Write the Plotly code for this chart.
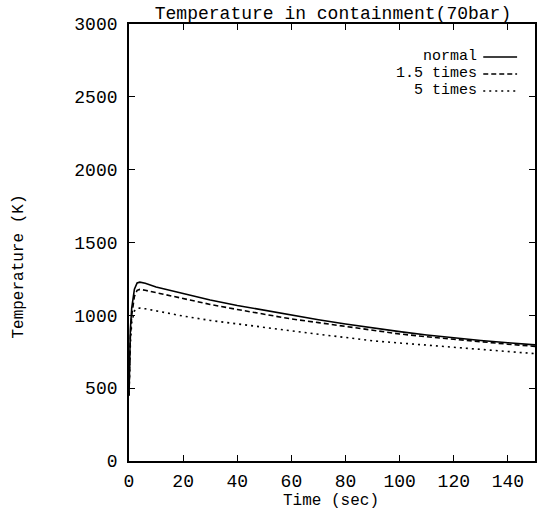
import plotly.graph_objects as go

time_s = [0, 0.5, 1, 2, 3, 4, 6, 10, 20, 30, 40, 50, 60, 70, 80, 90, 100, 110, 120, 130, 140, 150]
temp_normal = [450, 900, 1050, 1180, 1222, 1228, 1220, 1195, 1150, 1105, 1068, 1035, 1000, 970, 940, 912, 888, 865, 845, 827, 812, 797]
temp_15x = [450, 850, 1000, 1130, 1172, 1178, 1172, 1155, 1115, 1075, 1040, 1005, 975, 950, 925, 896, 872, 853, 835, 818, 802, 787]
temp_5x = [450, 800, 950, 1030, 1048, 1050, 1045, 1030, 995, 965, 940, 915, 893, 870, 848, 825, 810, 795, 780, 765, 750, 737]

series_names = ["normal", "1.5 times", "5 times"]
series_vals = [temp_normal, temp_15x, temp_5x]
dashes = ["solid", "5px,3px", "2px,4px"]

FONT = "Liberation Mono, Courier New, monospace"
W, H = 540, 510
L, R, T, B = 129, 3, 24, 49
PW, PH = W - L - R, H - T - B

def px2paper(x, y):
    return (x - L) / PW, (H - B - y) / PH

fig = go.Figure()
for name, vals, d in zip(series_names, series_vals, dashes):
    fig.add_trace(go.Scatter(x=time_s, y=vals, mode="lines", name=name,
                             line=dict(color="black", width=1.6, dash=d),
                             showlegend=False))

# legend drawn manually (compact spacing like the original)
legend_y = [57, 74, 91]
for name, d, yy in zip(series_names, dashes, legend_y):
    xp, yp = px2paper(480, yy)
    fig.add_annotation(x=xp, y=yp, xref="paper", yref="paper", text=name,
                       showarrow=False, xanchor="right", yanchor="middle", borderpad=0,
                       font=dict(family=FONT, size=15, color="black"))
    x0, y0 = px2paper(485, yy)
    x1, _ = px2paper(519, yy)
    fig.add_shape(type="line", xref="paper", yref="paper", x0=x0, x1=x1, y0=y0, y1=y0,
                  line=dict(color="black", width=1.3, dash=d))

# axis titles
xp, yp = px2paper(332, 501)
fig.add_annotation(x=xp, y=yp, xref="paper", yref="paper", text="Time (sec)",
                   showarrow=False, xanchor="center", yanchor="middle", borderpad=0,
                   font=dict(family=FONT, size=16, color="black"))
xp, yp = px2paper(18, 267)
fig.add_annotation(x=xp, y=yp, xref="paper", yref="paper", text="Temperature (K)",
                   showarrow=False, xanchor="center", yanchor="middle", textangle=-90,
                   font=dict(family=FONT, size=16, color="black"))

axis_common = dict(showgrid=False, zeroline=False, showline=True, linecolor="black",
                   linewidth=1.8, mirror="allticks", ticks="inside", ticklen=6,
                   tickwidth=1.3, tickcolor="black",
                   tickfont=dict(family=FONT, size=18, color="black"))

fig.update_layout(
    width=W, height=H,
    margin=dict(l=L, r=R, t=T, b=B),
    paper_bgcolor="white", plot_bgcolor="white",
    title=dict(text="Temperature in containment(70bar)", x=333 / W, xref="container",
               xanchor="center", y=1 - 13 / H, yref="container", yanchor="middle",
               font=dict(family=FONT, size=18, color="black")),
    xaxis=dict(range=[0, 150], tickvals=[0, 20, 40, 60, 80, 100, 120, 140],
               ticklabelstandoff=2, **axis_common),
    yaxis=dict(range=[0, 3000], tickvals=[0, 500, 1000, 1500, 2000, 2500, 3000],
               ticklabelstandoff=6, **axis_common),
)

fig.write_html("out.html")
